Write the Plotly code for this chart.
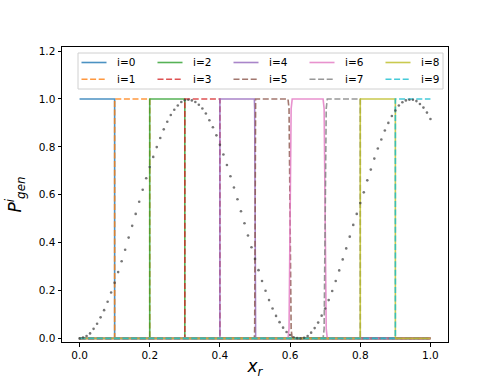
import plotly.graph_objects as go

# window boundaries of each p_gen^i (value 1 between lo and hi)
window_lo = [0.0, 0.1, 0.2, 0.3, 0.4, 0.5, 0.6, 0.7, 0.8, 0.9]
window_hi = [0.1, 0.2, 0.3, 0.4, 0.5, 0.6, 0.7, 0.8, 0.9, 1.0]
# softness of each boundary (rounded corners near x_r=0.6, 0.7)
edge_soft = {0.1: 0.0, 0.2: 0.0, 0.3: 0.0, 0.4: 0.0, 0.5: 0.3, 0.6: 1.0, 0.7: 1.0, 0.8: 0.0, 0.9: 0.0}
edge_dx = [-0.006, -0.003, 0.0, 0.003, 0.006]
edge_rise = [0.0, 0.04, 0.5, 0.96, 1.0]

labels = [f"i={i}" for i in range(10)]
colors = ["#1f77b4", "#ff7f0e", "#2ca02c", "#d62728", "#9467bd",
          "#8c564b", "#e377c2", "#7f7f7f", "#bcbd22", "#17becf"]

# dotted reference curve at x_r = 0.00, 0.01, ..., 1.00
curve_x = [round(k * 0.01, 2) for k in range(101)]
curve_y = [
    0.000, 0.004, 0.010, 0.021, 0.040, 0.061, 0.088, 0.118, 0.153, 0.192,
    0.232, 0.277, 0.322, 0.370, 0.421, 0.470, 0.520, 0.571, 0.621, 0.669,
    0.716, 0.758, 0.799, 0.837, 0.873, 0.905, 0.933, 0.955, 0.973, 0.987,
    0.995, 0.997, 0.994, 0.987, 0.976, 0.960, 0.939, 0.911, 0.882, 0.848,
    0.809, 0.768, 0.724, 0.677, 0.630, 0.581, 0.531, 0.481, 0.430, 0.381,
    0.332, 0.285, 0.240, 0.199, 0.160, 0.125, 0.094, 0.068, 0.045, 0.027,
    0.014, 0.005, 0.001, 0.000, 0.003, 0.010, 0.024, 0.043, 0.066, 0.095,
    0.125, 0.160, 0.198, 0.240, 0.284, 0.330, 0.376, 0.425, 0.474, 0.520,
    0.565, 0.610, 0.660, 0.705, 0.751, 0.793, 0.831, 0.868, 0.900, 0.929,
    0.952, 0.973, 0.986, 0.994, 0.997, 0.997, 0.991, 0.979, 0.964, 0.943,
    0.916,
]

W, H = 498, 390
ML, MR, MT, MB = 62, 50, 47, 48
PW, PH = W - ML - MR, H - MT - MB


def px(x):
    return (x - ML) / PW


def py(y):
    return (H - MB - y) / PH


def edge_points(b, rising):
    s = edge_soft.get(round(b, 1), 0.0)
    if s == 0.0:
        return [b, b], ([0.0, 1.0] if rising else [1.0, 0.0])
    xs = [b + d * s for d in edge_dx]
    ys = edge_rise if rising else [1.0 - v for v in edge_rise]
    return xs, list(ys)


def dash_for(i):
    return "solid" if i % 2 == 0 else "6px,2.6px"


fig = go.Figure()
for i, (lo, hi) in enumerate(zip(window_lo, window_hi)):
    xs, ys = [0.0], [0.0 if lo > 0.0 else 1.0]
    if lo > 0.0:
        ex, ey = edge_points(lo, True)
        xs += ex
        ys += ey
    if hi < 1.0:
        ex, ey = edge_points(hi, False)
        xs += ex
        ys += ey
    xs.append(1.0)
    ys.append(0.0 if hi < 1.0 else 1.0)
    fig.add_trace(go.Scatter(
        x=xs, y=ys, mode="lines", name=labels[i], showlegend=False,
        line=dict(color=colors[i], width=1.6, dash=dash_for(i)),
        opacity=0.8,
    ))

fig.add_trace(go.Scatter(
    x=curve_x, y=curve_y, mode="markers", showlegend=False,
    marker=dict(size=2.6, color="rgba(60,60,60,0.7)"),
))

# legend drawn like matplotlib's (5 columns, filled column by column)
fig.add_shape(type="rect", xref="paper", yref="paper",
              x0=px(78), x1=px(443), y0=py(89), y1=py(53),
              line=dict(color="#d0d0d0", width=1), fillcolor="rgba(255,255,255,0.8)")
for i in range(10):
    col, row = i // 2, i % 2
    x0 = 81.5 + col * 76
    yy = 62.5 + row * 16.8
    fig.add_shape(type="line", xref="paper", yref="paper",
                  x0=px(x0), x1=px(x0 + 25), y0=py(yy), y1=py(yy),
                  line=dict(color=colors[i], width=1.6, dash=dash_for(i)), opacity=0.8)
    fig.add_annotation(xref="paper", yref="paper", x=px(x0 + 33), y=py(yy),
                       text=labels[i], showarrow=False, xanchor="left", yanchor="middle",
                       font=dict(family="DejaVu Sans", size=10.5, color="black"))

axis_common = dict(
    showgrid=False, zeroline=False, showline=True, linecolor="black", linewidth=1,
    mirror=True, ticks="outside", ticklen=3.5, tickwidth=1, tickcolor="black",
    tickfont=dict(family="DejaVu Sans", size=10.5, color="black"),
    tickformat=".1f", automargin=False,
)
fig.update_layout(
    width=W, height=H,
    paper_bgcolor="white", plot_bgcolor="white",
    margin=dict(l=ML, r=MR, t=MT, b=MB),
    font=dict(family="DejaVu Sans", color="black"),
    xaxis=dict(range=[-0.05, 1.05], tickvals=[0, 0.2, 0.4, 0.6, 0.8, 1.0],
               title=dict(text="<i>x<sub>r</sub></i>", font=dict(size=17), standoff=0),
               **axis_common),
    yaxis=dict(range=[-0.015, 1.217], tickvals=[0, 0.2, 0.4, 0.6, 0.8, 1.0, 1.2],
               title=dict(text="<i>P<sup>i</sup><sub>gen</sub></i>", font=dict(size=17), standoff=12),
               **axis_common),
    showlegend=False,
)

fig.write_html("out.html", config={"displayModeBar": False},
               post_script="document.body.style.margin='0px';")
